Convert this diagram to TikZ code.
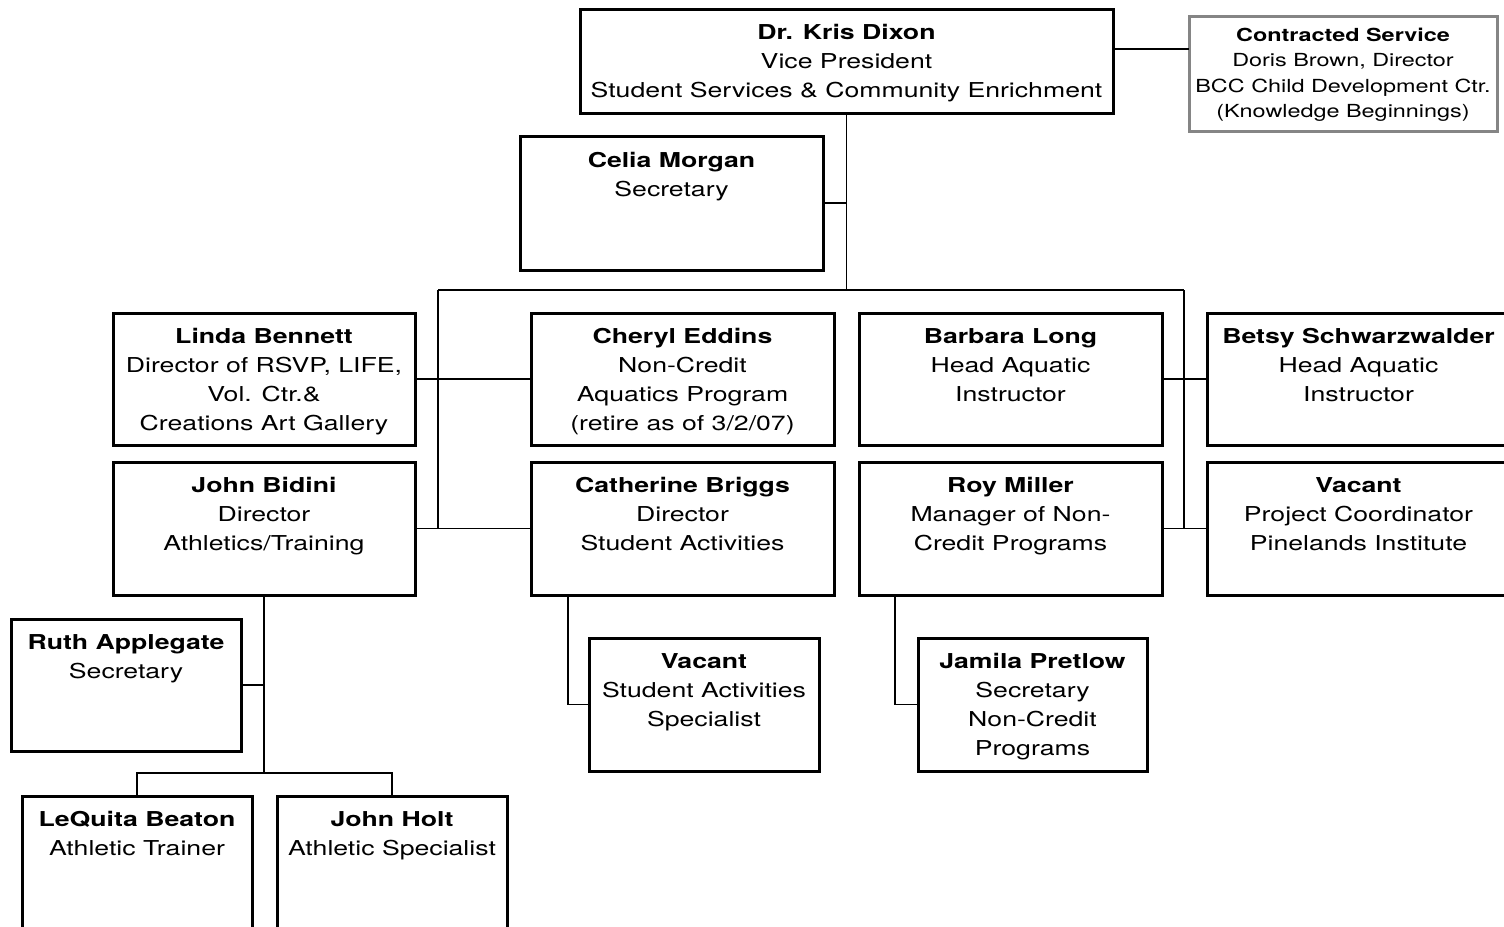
\documentclass[tikz,border=0pt]{standalone}
\usepackage{fontspec}
\setmainfont{TeX Gyre Heros}[FakeStretch=1.3]
\begin{document}
\begin{tikzpicture}[x=1pt,y=-1pt,
  box/.style={draw=black, line width=3pt, rectangle, inner sep=0pt, outer sep=0pt},
  gbox/.style={draw=black!48, line width=3pt, rectangle, inner sep=0pt, outer sep=0pt},
  txt/.style={anchor=north, align=center, inner sep=0pt, font=\fontsize{20.5}{29}\selectfont},
  stxt/.style={anchor=north, align=center, inner sep=0pt, font=\fontsize{18}{25.3}\selectfont},
  conn/.style={draw=black, line width=1.5pt}]
\useasboundingbox (0,0) rectangle (1504,926);
\clip (0,0) rectangle (1504,926);
% boxes
\node[box, minimum width=533pt, minimum height=104pt] (dixon) at (846.5,61) {};
\node[gbox, minimum width=308pt, minimum height=115pt] (contr) at (1343,73.5) {};
\node[box, minimum width=303pt, minimum height=134pt] (celia) at (671.5,203) {};
\node[box, minimum width=302pt, minimum height=132pt] (linda) at (264,379) {};
\node[box, minimum width=303pt, minimum height=132pt] (cheryl) at (682.5,379) {};
\node[box, minimum width=303pt, minimum height=132pt] (barbara) at (1010.5,379) {};
\node[box, minimum width=303pt, minimum height=132pt] (betsy) at (1358.5,379) {};
\node[box, minimum width=302pt, minimum height=133pt] (bidini) at (264,528.5) {};
\node[box, minimum width=303pt, minimum height=133pt] (briggs) at (682.5,528.5) {};
\node[box, minimum width=303pt, minimum height=133pt] (roy) at (1010.5,528.5) {};
\node[box, minimum width=303pt, minimum height=133pt] (vacp) at (1358.5,528.5) {};
\node[box, minimum width=230pt, minimum height=132pt] (ruth) at (126,685) {};
\node[box, minimum width=230pt, minimum height=133pt] (vacs) at (704,704.5) {};
\node[box, minimum width=229pt, minimum height=133pt] (jamila) at (1032.5,704.5) {};
\node[box, minimum width=230pt, minimum height=164pt] (lequita) at (137,878) {};
\node[box, minimum width=230pt, minimum height=164pt] (holt) at (392,878) {};
% texts
\node[txt] (dixonT) at ([yshift=-15.5pt]dixon.north) {\textbf{Dr. Kris Dixon}\\Vice President\\Student Services \& Community Enrichment};
\node[stxt] (contrT) at ([yshift=-12pt]contr.north) {\textbf{Contracted Service}\\Doris Brown, Director\\BCC Child Development Ctr.\\(Knowledge Beginnings)};
\node[txt] (celiaT) at ([yshift=-16.5pt]celia.north) {\textbf{Celia Morgan}\\Secretary};
\node[txt] (lindaT) at ([yshift=-15pt]linda.north) {\textbf{Linda Bennett}\\Director of RSVP, LIFE,\\Vol. Ctr.\&\\Creations Art Gallery};
\node[txt] (cherylT) at ([yshift=-15pt]cheryl.north) {\textbf{Cheryl Eddins}\\Non-Credit\\Aquatics Program\\(retire as of 3/2/07)};
\node[txt] (barbaraT) at ([yshift=-15pt]barbara.north) {\textbf{Barbara Long}\\Head Aquatic\\Instructor};
\node[txt] (betsyT) at ([yshift=-15pt]betsy.north) {\textbf{Betsy Schwarzwalder}\\Head Aquatic\\Instructor};
\node[txt] (bidiniT) at ([yshift=-15pt]bidini.north) {\textbf{John Bidini}\\Director\\Athletics/Training};
\node[txt] (briggsT) at ([yshift=-15pt]briggs.north) {\textbf{Catherine Briggs}\\Director\\Student Activities};
\node[txt] (royT) at ([yshift=-15pt]roy.north) {\textbf{Roy Miller}\\Manager of Non-\\Credit Programs};
\node[txt] (vacpT) at ([yshift=-15pt]vacp.north) {\textbf{Vacant}\\Project Coordinator\\Pinelands Institute};
\node[txt] (ruthT) at ([yshift=-15pt]ruth.north) {\textbf{Ruth Applegate}\\Secretary};
\node[txt] (vacsT) at ([yshift=-15pt]vacs.north) {\textbf{Vacant}\\Student Activities\\Specialist};
\node[txt] (jamilaT) at ([yshift=-15pt]jamila.north) {\textbf{Jamila Pretlow}\\Secretary\\Non-Credit\\Programs};
\node[txt] (lequitaT) at ([yshift=-15pt]lequita.north) {\textbf{LeQuita Beaton}\\Athletic Trainer};
\node[txt] (holtT) at ([yshift=-15pt]holt.north) {\textbf{John Holt}\\Athletic Specialist};
% connectors
\coordinate (barL) at (438,290);
\coordinate (barR) at (1184,290);
\coordinate (cy) at (0,49);
\draw[conn] (dixon.east |- cy) -- (contr.west |- cy);
\draw[conn] (dixon.south) -- (dixon.south |- barL);
\draw[conn] (celia.east) -- (celia.east -| dixon.south);
\draw[conn] (barL) -- (barR);
\draw[conn] (barL) -- (barL |- bidini.east);
\draw[conn] (barR) -- (barR |- roy.east);
\draw[conn] (linda.east) -- (cheryl.west);
\draw[conn] (bidini.east) -- (briggs.west);
\draw[conn] (barbara.east) -- (betsy.west);
\draw[conn] (roy.east) -- (vacp.west);
\coordinate (bj) at (0,773);
\draw[conn] (bidini.south) -- (bidini.south |- bj);
\draw[conn] (ruth.east) -- (ruth.east -| bidini.south);
\draw[conn] (lequita.north) -- (lequita.north |- bj) -- (holt.north |- bj) -- (holt.north);
\coordinate (bx) at (568,0);
\coordinate (rx) at (895,0);
\draw[conn] (bx |- briggs.south) |- (vacs.west);
\draw[conn] (rx |- roy.south) |- (jamila.west);
\end{tikzpicture}
\end{document}
